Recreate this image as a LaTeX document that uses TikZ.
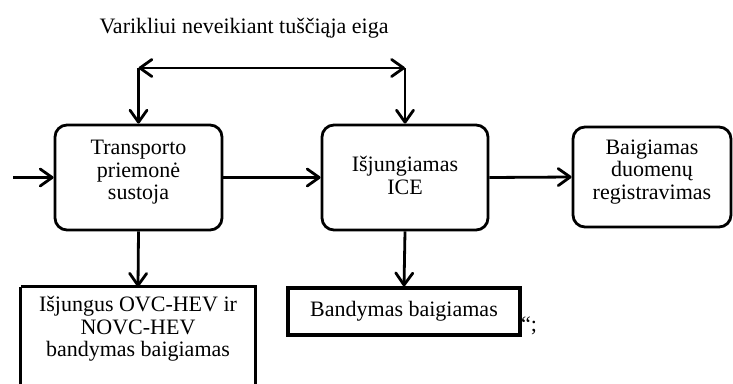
\documentclass[tikz,border=0pt]{standalone}
\usepackage{fontspec}
\setmainfont{Liberation Serif}
\usetikzlibrary{arrows.meta}
\begin{document}
\begin{tikzpicture}[x=1pt,y=-1pt,
  txt/.style={font=\fontsize{22}{22.5}\selectfont, align=center, inner sep=0pt},
  rbox/.style={draw, line width=2.8pt, rounded corners=12pt, inner sep=0pt},
  sbox/.style={txt, draw, line width=3.2pt},
  tip/.style={},
  arr/.style={line width=2.8pt, -{Straight Barb[length=12pt,width=17pt,line cap=round,line join=round]}},
  darr/.style={line width=2.8pt, {Straight Barb[length=12pt,width=17pt,line cap=round,line join=round]}-{Straight Barb[length=12pt,width=17pt,line cap=round,line join=round]}}
]
\clip (0,0) rectangle (733,383);
\useasboundingbox (0,0) rectangle (733,383);

\node[txt] (title) at (244,28) {Varikliui neveikiant tuščiąja eiga};

\node[rbox, minimum width=167pt, minimum height=105pt,
  label={[txt,yshift=5pt]center:{Transporto\\priemonė\\sustoja}}] (b1) at (138.5,177.5) {};
\node[rbox, minimum width=166pt, minimum height=105pt,
  label={[txt,yshift=2pt]center:{Išjungiamas\\ICE}}] (b2) at (405,177.5) {};
\node[rbox, minimum width=158pt, minimum height=100pt,
  label={[txt,yshift=5pt]center:{Baigiamas\\duomenų\\registravimas}}] (b3) at (652,177) {};

\node[sbox, minimum width=232pt, minimum height=47pt] (b5) at (404,311.5) {Bandymas baigiamas};
\node[txt, minimum width=234pt, minimum height=84pt] (b4) at (138,329) {Išjungus OVC-HEV ir\\NOVC-HEV\\bandymas baigiamas};
\draw[line width=3.2pt] (b4.north west) -- (b4.north east) -- ++(0,120);
\draw[line width=3.2pt] (b4.north west) -- ++(0,120);

\node[txt, anchor=base west] (q) at (521,331) {“;};

\coordinate (c1) at (b1.north |- 0,68);
\coordinate (c2) at (b2.north |- 0,68);
\coordinate (in) at (13,177.5);

\draw[darr] (c1) -- (c2);
\draw[arr] (c1) -- (b1.north);
\draw[arr] (c2) -- (b2.north);
\draw[arr] (in) -- (b1.west);
\draw[arr] (b1.east) -- (b2.west);
\draw[arr] (b2.east) -- (b3.west);
\draw[arr] (b1.south) -- (b4.north);
\draw[arr] (b2.south) -- (b5.north);
\end{tikzpicture}
\end{document}
